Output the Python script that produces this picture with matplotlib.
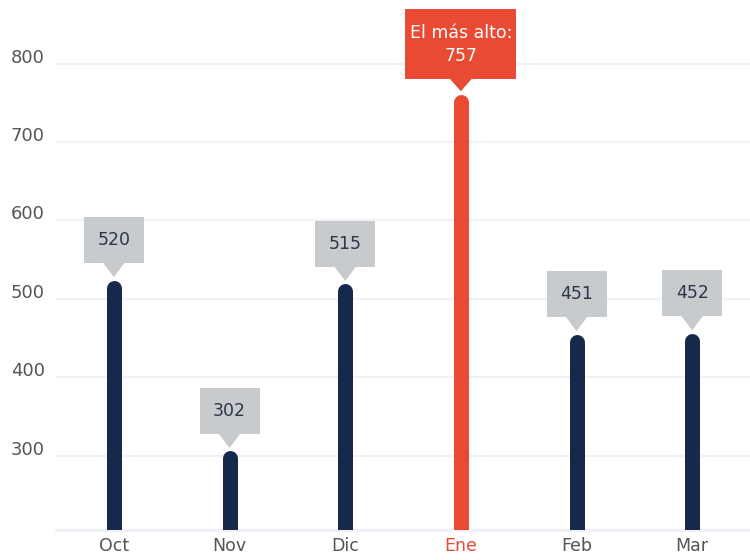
import matplotlib.pyplot as plt
from matplotlib.patches import Rectangle, Polygon
import matplotlib.transforms as mtransforms

meses = ["Oct", "Nov", "Dic", "Ene", "Feb", "Mar"]
valores = [520, 302, 515, 757, 451, 452]
yticks = [300, 400, 500, 600, 700, 800]

azul = "#16294a"
rojo = "#e84a33"
gris = "#c8cbcd"
texto = "#555555"
rejilla = "#f1f1f8"

plt.rcParams['font.family'] = ['DejaVu Sans']

fig = plt.figure(figsize=(7.5, 5.6), dpi=100)
ax = fig.add_axes([56 / 750, 30 / 560, 694 / 750, 530 / 560])
ax.set_xlim(-0.5, len(meses) - 0.5)
ax.set_ylim(205, 881)

for s in ax.spines.values():
    s.set_visible(False)
ax.set_yticks(yticks)
ax.grid(axis='y', color=rejilla, lw=1.6)
ax.axhline(205, color=rejilla, lw=2.2, clip_on=False)
ax.set_axisbelow(True)
ax.tick_params(length=0, labelsize=13, colors=texto)
ax.tick_params(axis='y', pad=8)
ax.set_xticks(range(len(meses)))
ax.set_xticklabels(meses)
ax.tick_params(axis='x', pad=5, labelsize=12.5)
# etiquetas del eje y un poco por encima de la linea
sube = mtransforms.ScaledTranslation(0, 8 / 100, fig.dpi_scale_trans)
for lab in ax.get_yticklabels():
    lab.set_transform(lab.get_transform() + sube)

imax = valores.index(max(valores))
ax.get_xticklabels()[imax].set_color(rojo)

# radio del remate redondeado en unidades de datos
lw_px = 15
radio = (lw_px / 2) * (881 - 205) / 530

px = mtransforms.IdentityTransform()
for i, v in enumerate(valores):
    c = rojo if i == imax else azul
    ax.plot([i, i], [150, v - radio * 0.6], color=c, lw=lw_px * 0.72,
            solid_capstyle='round', zorder=3)

    x0, y0 = ax.transData.transform((i, v))
    if i == imax:
        etiqueta = "El más alto:\n%d" % v
        w, h, gap, bg, col = 111, 70, 18, rojo, "white"
    else:
        etiqueta = "%d" % v
        w, h, gap, bg, col = 60, 46, 20, gris, "#2b3648"
    fig.patches.append(Rectangle((x0 - w / 2, y0 + gap), w, h, transform=px,
                                 fc=bg, ec='none', figure=fig))
    fig.patches.append(Polygon([(x0 - 11, y0 + gap + 0.5), (x0 + 11, y0 + gap + 0.5),
                                (x0, y0 + 6)], closed=True, transform=px,
                               fc=bg, ec='none', figure=fig))
    fig.text(x0, y0 + gap + h / 2, etiqueta, transform=px, ha='center', va='center',
             fontsize=12.5, color=col, linespacing=1.35)

fig.savefig("out.png", dpi=100)
